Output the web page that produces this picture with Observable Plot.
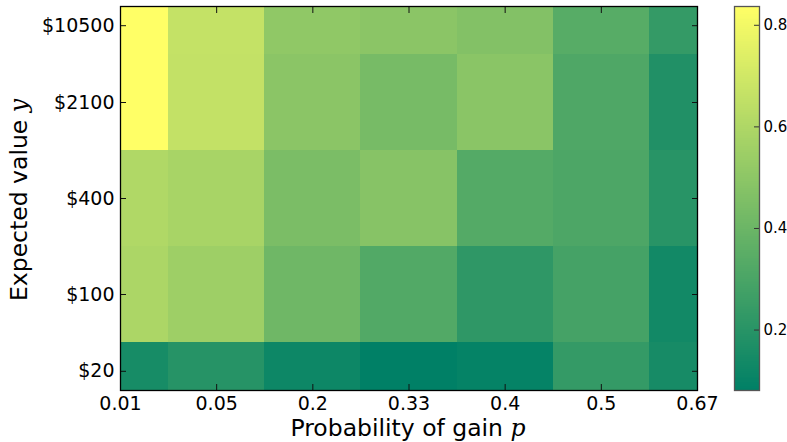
<!DOCTYPE html>
<html>
<head>
<meta charset="utf-8">
<script src="https://cdn.jsdelivr.net/npm/d3@7"></script>
<script src="https://cdn.jsdelivr.net/npm/@observablehq/plot@0.6"></script>
<style>
  html, body { margin: 0; padding: 0; background: white; }
  #wrap { position: relative; width: 787px; height: 442px; overflow: hidden; background: white; }
  #wrap svg { position: absolute; top: 0; overflow: visible; }
</style>
</head>
<body>
<div id="wrap"></div>
<script>
// ---- data ----
const pLabels = ["0.01", "0.05", "0.2", "0.33", "0.4", "0.5", "0.67"];
const yLabels = ["$20", "$100", "$400", "$2100", "$10500"]; // bottom to top
// tick placement along the value axis (row index units)
const yTickAt = [0.2, 1, 2, 3, 3.8];
const row20    = [0.150, 0.194, 0.120, 0.081, 0.097, 0.235, 0.149];
const row100   = [0.591, 0.550, 0.410, 0.325, 0.220, 0.285, 0.134];
const row400   = [0.603, 0.580, 0.445, 0.480, 0.330, 0.310, 0.200];
const row2100  = [0.837, 0.660, 0.493, 0.434, 0.490, 0.315, 0.179];
const row10500 = [0.837, 0.663, 0.508, 0.493, 0.470, 0.340, 0.235];
const rows = [row20, row100, row400, row2100, row10500];
const cbTicks = [0.2, 0.4, 0.6, 0.8];
const vMin = 0.081, vMax = 0.837;

// ---- build table ----
const nx = pLabels.length - 1, ny = yLabels.length - 1;
const cells = [];
rows.forEach((r, j) => r.forEach((v, i) => cells.push({
  x1: Math.max(0, i - 0.5), x2: Math.min(nx, i + 0.5),
  y1: Math.max(0, j - 0.5), y2: Math.min(ny, j + 0.5), v
})));
const xTicks = d3.range(pLabels.length);
const yLabelAt = new Map(yTickAt.map((t, i) => [t, yLabels[i]]));

const colorOpts = {type: "linear", domain: [vMin, vMax], range: ["rgb(0,128,102)", "rgb(255,255,102)"], interpolate: "rgb"};
const font = "DejaVu Sans, Liberation Sans, sans-serif";

const chart = Plot.plot({
  width: 787, height: 442,
  marginLeft: 120, marginRight: 90, marginTop: 6, marginBottom: 52,
  style: {fontFamily: font, fontSize: "19px", background: "transparent", color: "black"},
  x: {domain: [0, nx]},
  y: {domain: [0, ny]},
  color: colorOpts,
  marks: [
    Plot.rect(cells, {x1: "x1", x2: "x2", y1: "y1", y2: "y2", fill: "v", shapeRendering: "crispEdges"}),
    Plot.axisX(xTicks, {anchor: "bottom", tickSize: 0, tickPadding: 6, tickFormat: d => pLabels[d], label: null, fontSize: 19}),
    Plot.axisX(xTicks, {anchor: "bottom", tickSize: -6, fill: "none", label: null, stroke: "#111"}),
    Plot.axisX(xTicks, {anchor: "top", tickSize: -6, fill: "none", label: null, stroke: "#111"}),
    Plot.axisY(yTickAt, {anchor: "left", tickSize: 0, tickPadding: 6, tickFormat: d => yLabelAt.get(d), label: null, fontSize: 19}),
    Plot.axisY(yTickAt, {anchor: "left", tickSize: -6, fill: "none", label: null, stroke: "#111"}),
    Plot.axisY(yTickAt, {anchor: "right", tickSize: -6, fill: "none", label: null, stroke: "#111"}),
    Plot.frame({stroke: "black", strokeWidth: 1.3})
  ]
});
chart.style.left = "0px";

// axis titles with italic math symbols
const s = d3.select(chart);
const xt = s.append("text")
  .attr("x", 408).attr("y", 436)
  .attr("text-anchor", "middle")
  .attr("font-family", font).attr("font-size", 23.5).attr("fill", "black");
xt.append("tspan").text("Probability of gain ");
xt.append("tspan").attr("font-family", "DejaVu Serif, Liberation Serif, serif").attr("font-style", "italic").text("p");

const yt = s.append("text")
  .attr("transform", "translate(27,200) rotate(-90)")
  .attr("text-anchor", "middle")
  .attr("font-family", font).attr("font-size", 23.5).attr("fill", "black");
yt.append("tspan").text("Expected value ");
yt.append("tspan").attr("font-family", "DejaVu Serif, Liberation Serif, serif").attr("font-style", "italic").text("y");

// ---- colorbar ----
const nStripes = 200;
const stripes = d3.range(nStripes).map(k => {
  const a = vMin + (vMax - vMin) * k / nStripes;
  const b = vMin + (vMax - vMin) * (k + 1) / nStripes;
  return {a, b, m: (a + b) / 2};
});
const cb = Plot.plot({
  width: 53, height: 442,
  marginLeft: 0, marginRight: 28, marginTop: 6, marginBottom: 52,
  style: {fontFamily: font, fontSize: "15px", background: "transparent", color: "black", overflow: "visible"},
  x: {domain: [0, 1], axis: null},
  y: {domain: [vMin, vMax]},
  color: colorOpts,
  marks: [
    Plot.rect(stripes, {x1: 0, x2: 1, y1: "a", y2: "b", fill: "m", shapeRendering: "crispEdges"}),
    Plot.axisY(cbTicks, {anchor: "right", tickSize: 0, tickPadding: 4, tickFormat: d => d.toFixed(1), label: null, fontSize: 15}),
    Plot.axisY(cbTicks, {anchor: "right", tickSize: -6, fill: "none", label: null, stroke: "#333"}),
    Plot.frame({stroke: "#555", strokeWidth: 1.3})
  ]
});
cb.style.left = "734px";

const wrap = document.getElementById("wrap");
wrap.appendChild(chart);
wrap.appendChild(cb);
</script>
</body>
</html>
